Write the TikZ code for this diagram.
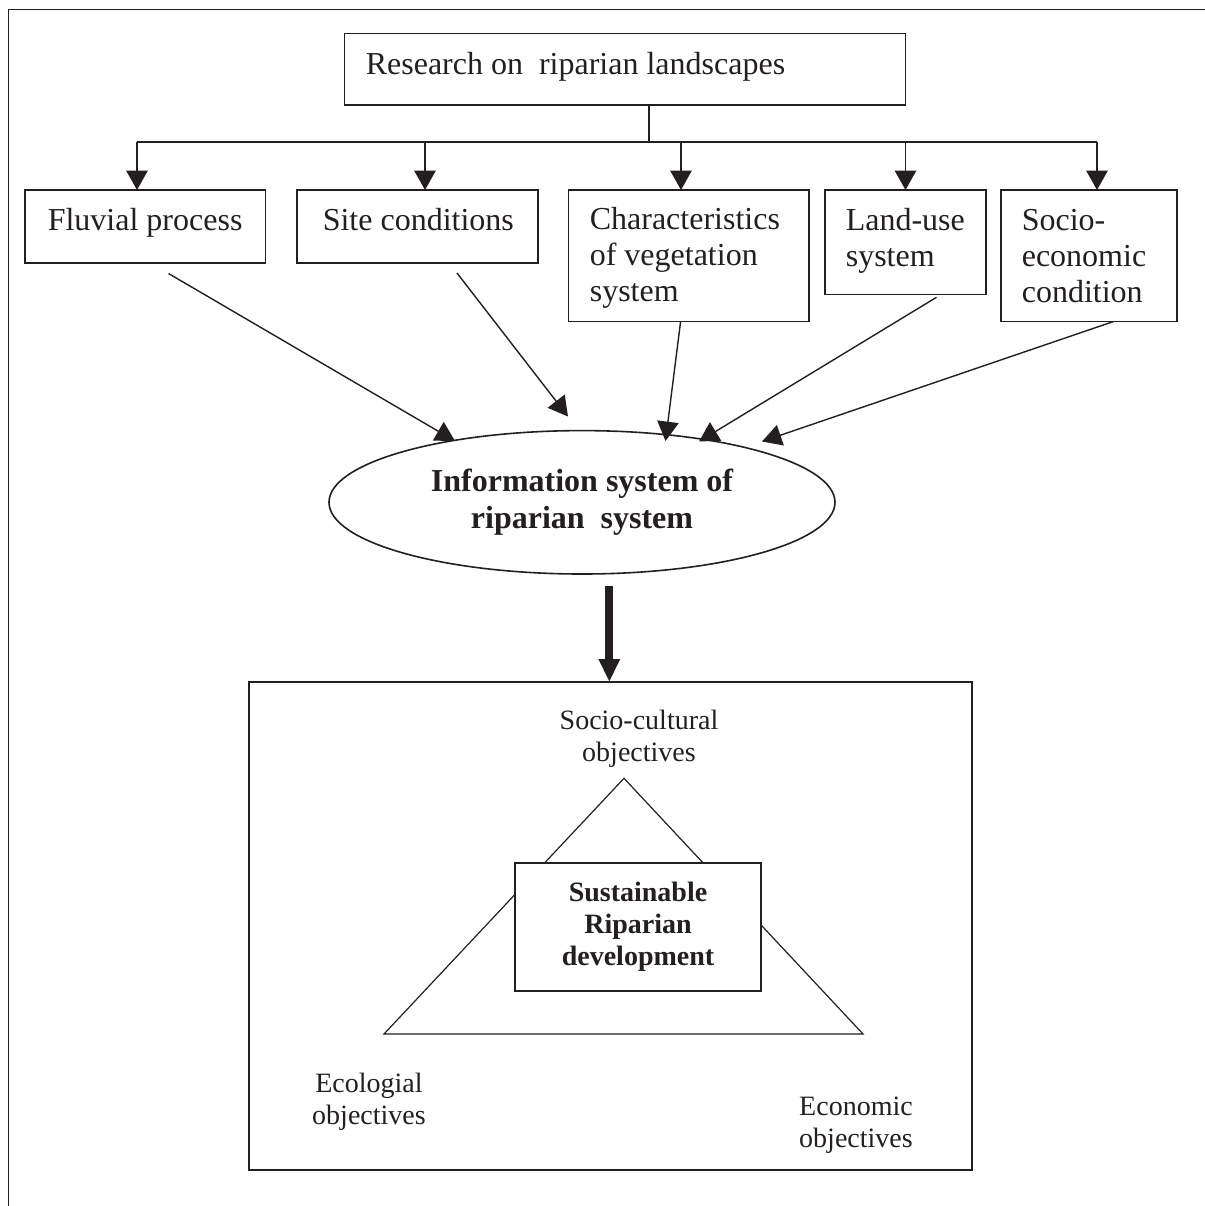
\documentclass[tikz,border=0pt]{standalone}
\usepackage{fontspec}
\setmainfont{Liberation Serif}
\usetikzlibrary{arrows.meta,shapes.geometric}
\definecolor{ink}{HTML}{231F20}
\begin{document}
\begin{tikzpicture}[x=0.5pt,y=-0.5pt,color=ink,line width=0.8pt,
  box/.style={draw,rectangle,inner sep=0pt,outer sep=0pt,anchor=north west},
  lbl/.style={inner sep=0pt,anchor=base west,font=\fontsize{16pt}{18pt}\selectfont},
  small/.style={inner sep=0pt,anchor=base,font=\fontsize{14pt}{16.2pt}\selectfont},
  arr/.style={-{Triangle[length=9.7pt,width=10.7pt]}},
  diag/.style={arr,line width=0.7pt},
  bigarr/.style={line width=4pt,-{Triangle[length=11.5pt,width=10pt]}}]
\useasboundingbox (0,0) rectangle (1205,1206);
% frame (left and top only)
\draw (8.5,1215) -- (8.5,9.3) -- (1215,9.3);
% top box
\node[box,minimum width=280.45pt,minimum height=35.85pt] (res) at (344.6,33.3) {};
\node[lbl] (tres) at (365,74) {Research on\ \ riparian landscapes};
% second row boxes
\node[box,minimum width=120.25pt,minimum height=36.35pt] (fl) at (25,190) {};
\node[box,minimum width=120.5pt,minimum height=36.35pt] (si) at (297,190) {};
\node[box,minimum width=120.25pt,minimum height=65.75pt] (ch) at (568.5,190) {};
\node[box,minimum width=80.5pt,minimum height=52.25pt] (la) at (825,190) {};
\node[box,minimum width=88pt,minimum height=65.75pt] (so) at (1001,190) {};
\node[lbl] (tfl) at (47,230) {Fluvial process};
\node[lbl] (tsi) at (322,230) {Site conditions};
\node[lbl] (tch) at (589,229) {\begin{tabular}[t]{@{}l@{}}Characteristics\\of vegetation\\system\end{tabular}};
\node[lbl] (tla) at (845,230) {\begin{tabular}[t]{@{}l@{}}Land-use\\system\end{tabular}};
\node[lbl] (tso) at (1021,230) {\begin{tabular}[t]{@{}l@{}}Socio-\\economic\\condition\end{tabular}};
% bus
\coordinate (stem) at (649,141.7);
\coordinate (b1) at (137,141.7);
\coordinate (b2) at (425,141.7);
\coordinate (b3) at (681,141.7);
\coordinate (b4) at (905.5,141.7);
\coordinate (b5) at (1097,141.7);
\draw (res.south -| stem) -- (stem);
\draw (b1) -- (b5);
\draw[arr] (b1) -- (b1 |- fl.north);
\draw[arr] (b2) -- (b2 |- si.north);
\draw[arr] (b3) -- (b3 |- ch.north);
\draw[arr] (b4) -- (b4 |- la.north);
\draw[arr] (b5) -- (b5 |- so.north);
% ellipse
\node[draw,ellipse,inner sep=0pt,minimum width=253pt,minimum height=71.7pt,align=center,
  font=\bfseries\fontsize{16pt}{18.7pt}\selectfont] (info) at (582,502.3)
  {Information system of\\riparian\ \ system};
% diagonal arrows
\coordinate (f1) at (168.5,273.5); \coordinate (f2) at (455,441);
\coordinate (s1) at (457,273);   \coordinate (s2) at (568,416.5);
\coordinate (c1) at (680.6,321.5); \coordinate (c2) at (665.5,441);
\coordinate (l1) at (936.5,297.3); \coordinate (l2) at (699,441.5);
\coordinate (o1) at (1113.5,321.5); \coordinate (o2) at (762,441.5);
\draw[diag] (f1) -- (f2);
\draw[diag] (s1) -- (s2);
\draw[diag] (c1) -- (c2);
\draw[diag] (l1) -- (l2);
\draw[diag] (o1) -- (o2);
% bottom box
\node[box,minimum width=361.5pt,minimum height=244pt] (bot) at (249,682) {};
\coordinate (t1) at (609.3,585.7);
\draw[bigarr] (t1) -- (t1 |- bot.north);
% triangle
\draw[line width=0.6pt] (624,778.3) -- (863,1034) -- (384,1034) -- cycle;
\node[box,fill=white,minimum width=123pt,minimum height=64.15pt,align=center,
  font=\bfseries\fontsize{14pt}{16.2pt}\selectfont] (sus) at (515,862.7) {};
\node[inner sep=0pt,align=center,font=\bfseries\fontsize{14pt}{16.2pt}\selectfont] (tsus) at (sus.center) {Sustainable\\Riparian\\development};
\node[small] (soc) at (639,729.3) {\begin{tabular}[t]{@{}c@{}}Socio-cultural\\objectives\end{tabular}};
\node[small] (eco) at (369,1092) {\begin{tabular}[t]{@{}c@{}}Ecologial\\objectives\end{tabular}};
\node[small] (ecn) at (856,1115) {\begin{tabular}[t]{@{}c@{}}Economic\\objectives\end{tabular}};
\end{tikzpicture}
\end{document}
